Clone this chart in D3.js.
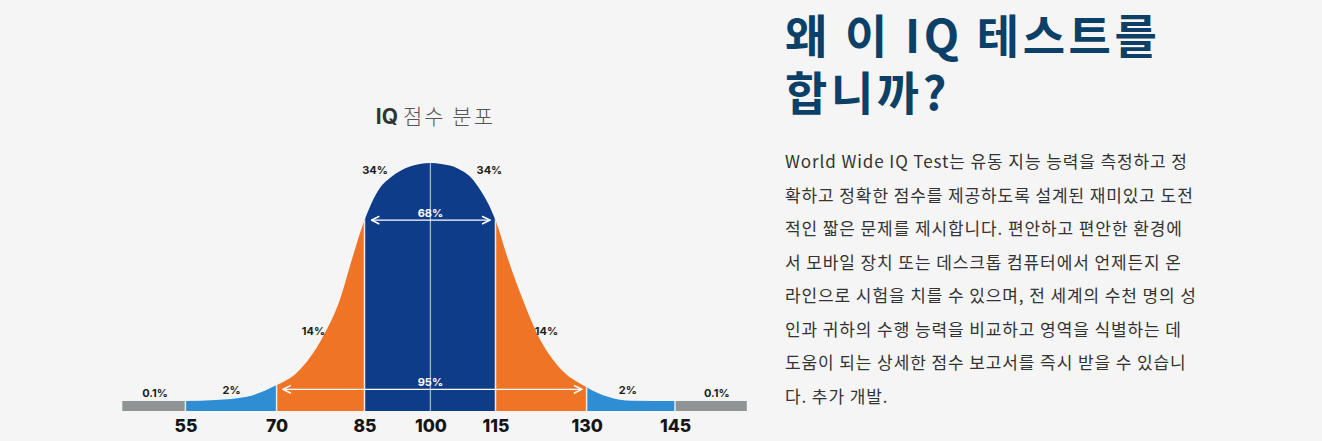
<!DOCTYPE html>
<html>
<head>
<meta charset="utf-8">
<script src="https://cdn.jsdelivr.net/npm/d3@7"></script>
<style>
  body { margin: 0; background: #f5f5f5; }
  svg { display: block; }
</style>
</head>
<body>
<div id="chart"></div>
<script>
// IQ boundaries shown on the axis
var ticks = [55, 70, 85, 100, 115, 130, 145];

// coloured bands (IQ from / to)
var bandFrom = [44.6, 55, 70, 85, 115, 130, 145];
var bandTo   = [55, 70, 85, 115, 130, 145, 157.2];
var bandKind = ["tail", "far", "mid", "core", "mid", "far", "tail"];

// bell curve (relative height, peak = 100)
var curveIQ  = [44.6, 55, 60, 65.1, 70, 73.4, 77.9, 80.8, 83, 85, 88.5, 91, 93.1, 95.5, 97.6, 100,
                102.5, 104.5, 106.4, 109, 111, 115, 117.1, 119.3, 122.1, 125.4, 130, 133.6, 137.7, 145, 157.2];
var curveVal = [0, 0, 0.4, 1.8, 6.7, 11.8, 27, 42.5, 60.7, 76, 89.5, 94, 96.6, 98.6, 99.6, 100,
                99.6, 98.9, 97.6, 94.5, 90, 76, 59.3, 43.9, 27, 14.4, 5.8, 1.8, 0.1, 0, 0];

// percentage labels
var pctText  = ["0.1%", "2%", "14%", "34%", "34%", "14%", "2%", "0.1%"];
var pctIQ    = [50, 62.6, 76.3, 87.4, 113.6, 123.4, 137, 152.1];
var pctLevel = [3.5, 4.6, 29.4, 96.9, 96.9, 29.4, 4.6, 3.5];

// range arrows
var arrowText  = ["68%", "95%"];
var arrowFrom  = [86.6, 71.1];
var arrowTo    = [113.7, 129.2];
var arrowLevel = [76, 4.9];
var arrowLabelLevel = [78.8, 8];

var titleBold = "IQ";
var titleRest = "점수 분포";

var heading = ["왜 이 IQ 테스트를", "합니까?"];
var para = [
  "World Wide IQ Test는 유동 지능 능력을 측정하고 정",
  "확하고 정확한 점수를 제공하도록 설계된 재미있고 도전",
  "적인 짧은 문제를 제시합니다. 편안하고 편안한 환경에",
  "서 모바일 장치 또는 데스크톱 컴퓨터에서 언제든지 온",
  "라인으로 시험을 치를 수 있으며, 전 세계의 수천 명의 성",
  "인과 귀하의 수행 능력을 비교하고 영역을 식별하는 데",
  "도움이 되는 상세한 점수 보고서를 즉시 받을 수 있습니",
  "다. 추가 개발."
];

var colors = {tail: "#8e9594", far: "#2f8ed3", mid: "#ef7426", core: "#0e3c88"};

var W = 1322, H = 441;
var svg = d3.select("#chart").append("svg")
    .attr("width", W)
    .attr("height", H);

svg.append("rect").attr("width", W).attr("height", H).attr("fill", "#f5f5f5");

// piecewise scale: the centre band is drawn narrower than the outer bands
var x = d3.scaleLinear()
    .domain(ticks)
    .range([185.4, 276.6, 364.5, 430.4, 495.5, 586.6, 675]);

var y = d3.scaleLinear()
    .domain([0, 100])
    .range([401, 163]);

var stripBottom = 411;

var curve = curveIQ.map(function(d, i) { return {iq: d, v: curveVal[i]}; });

var area = d3.area()
    .x(function(d) { return x(d.iq); })
    .y0(stripBottom)
    .y1(function(d) { return y(d.v); })
    .curve(d3.curveMonotoneX);

var defs = svg.append("defs");
defs.append("clipPath").attr("id", "bell")
    .append("path")
    .datum(curve)
    .attr("d", area);

defs.append("marker")
    .attr("id", "head")
    .attr("viewBox", "0 0 10 10")
    .attr("refX", 9).attr("refY", 5)
    .attr("markerWidth", 7).attr("markerHeight", 7)
    .attr("orient", "auto-start-reverse")
    .append("path")
    .attr("d", "M1,1 L9,5 L1,9")
    .attr("fill", "none")
    .attr("stroke", "#fff")
    .attr("stroke-width", 1.6);

var chart = svg.append("g").attr("clip-path", "url(#bell)");

chart.selectAll(".band")
    .data(bandFrom)
    .enter().append("rect")
    .attr("class", "band")
    .attr("x", function(d) { return x(d); })
    .attr("width", function(d, i) { return x(bandTo[i]) - x(d); })
    .attr("y", y(100) - 2)
    .attr("height", stripBottom - y(100) + 2)
    .attr("fill", function(d, i) { return colors[bandKind[i]]; });

// separators between bands
chart.selectAll(".sep")
    .data(ticks)
    .enter().append("line")
    .attr("class", "sep")
    .attr("x1", function(d) { return x(d); })
    .attr("x2", function(d) { return x(d); })
    .attr("y1", y(100) - 2)
    .attr("y2", stripBottom)
    .attr("stroke", function(d) { return d === 100 ? "#9fb2d2" : "#e9ecef"; })
    .attr("stroke-width", function(d) { return d === 100 ? 1.3 : 1.5; });

// arrows
var arrows = svg.selectAll(".arrow")
    .data(arrowText)
    .enter().append("g")
    .attr("class", "arrow");

arrows.append("line")
    .attr("x1", function(d, i) { return x(arrowFrom[i]); })
    .attr("x2", function(d, i) { return x(arrowTo[i]); })
    .attr("y1", function(d, i) { return y(arrowLevel[i]); })
    .attr("y2", function(d, i) { return y(arrowLevel[i]); })
    .attr("stroke", "#fff")
    .attr("stroke-width", 1.4)
    .attr("marker-start", "url(#head)")
    .attr("marker-end", "url(#head)");

arrows.append("text")
    .attr("x", x(100))
    .attr("y", function(d, i) { return y(arrowLabelLevel[i]); })
    .attr("dy", "0.35em")
    .attr("text-anchor", "middle")
    .attr("font-family", "Inter, 'Open Sans', sans-serif")
    .attr("font-weight", 700)
    .attr("font-size", 11)
    .attr("fill", "#fff")
    .text(function(d) { return d; });

// percentage labels
svg.selectAll(".pct")
    .data(pctText)
    .enter().append("text")
    .attr("class", "pct")
    .attr("x", function(d, i) { return x(pctIQ[i]); })
    .attr("y", function(d, i) { return y(pctLevel[i]); })
    .attr("dy", "0.35em")
    .attr("text-anchor", "middle")
    .attr("font-family", "Inter, 'Open Sans', sans-serif")
    .attr("font-weight", 700)
    .attr("font-size", 11)
    .attr("fill", "#1e1e1e")
    .text(function(d) { return d; });

// axis with the IQ values
var axis = svg.append("g")
    .attr("transform", "translate(0," + stripBottom + ")")
    .call(d3.axisBottom(x).tickValues(ticks).tickSize(0).tickPadding(9));
axis.select(".domain").remove();
axis.selectAll("text")
    .attr("font-family", "Inter, 'Open Sans', sans-serif")
    .attr("font-weight", 800)
    .attr("font-size", 17.5)
    .attr("fill", "#151515");

// chart title
var title = svg.append("text")
    .attr("x", x(100) + 5)
    .attr("y", 124)
    .attr("text-anchor", "middle")
    .attr("font-size", 21);
title.append("tspan")
    .attr("font-family", "Inter, sans-serif")
    .attr("font-weight", 700)
    .attr("fill", "#333")
    .text(titleBold + " ");
title.append("tspan")
    .attr("font-family", "'Noto Sans CJK KR', sans-serif")
    .attr("font-weight", 300)
    .attr("letter-spacing", 2)
    .attr("fill", "#555")
    .text(titleRest);

// right hand text block
svg.selectAll(".heading")
    .data(heading)
    .enter().append("text")
    .attr("class", "heading")
    .attr("x", 785)
    .attr("y", function(d, i) { return 53 + i * 57; })
    .attr("font-family", "'Noto Sans CJK KR', sans-serif")
    .attr("font-weight", 700)
    .attr("font-size", 46)
    .attr("letter-spacing", 3.6)
    .attr("fill", "#0c4066")
    .text(function(d) { return d; });

svg.selectAll(".para")
    .data(para)
    .enter().append("text")
    .attr("class", "para")
    .attr("x", 785)
    .attr("y", function(d, i) { return 168 + i * 33.5; })
    .attr("font-family", "'Noto Sans CJK KR', sans-serif")
    .attr("font-weight", 400)
    .attr("font-size", 17)
    .attr("letter-spacing", 0.9)
    .attr("fill", "#333")
    .text(function(d) { return d; });
</script>
</body>
</html>
